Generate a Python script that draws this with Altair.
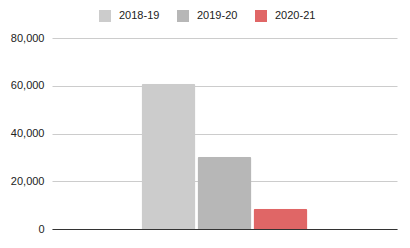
import altair as alt
import pandas as pd

seasons = ["2018-19", "2019-20", "2020-21"]
values = [60800, 30300, 8500]
colors = ["#cccccc", "#b7b7b7", "#e06666"]

df = pd.DataFrame({"season": seasons, "value": values, "group": ["all"] * 3})

chart = alt.Chart(df).mark_bar(
    cornerRadiusTopLeft=2, cornerRadiusTopRight=2
).encode(
    x=alt.X("group:N", title=None,
            scale=alt.Scale(paddingInner=0, paddingOuter=0.527),
            axis=alt.Axis(labels=False, ticks=False, domain=True,
                          domainColor="#333333", domainWidth=1, grid=False)),
    xOffset=alt.XOffset("season:N", sort=seasons,
                        scale=alt.Scale(paddingInner=0.036, paddingOuter=0.018)),
    y=alt.Y("value:Q", title=None,
            scale=alt.Scale(domain=[0, 80000], nice=False),
            axis=alt.Axis(values=[0, 20000, 40000, 60000, 80000], format=",.0f",
                          domain=False, ticks=False, labelPadding=8,
                          gridColor="#cccccc", labelColor="#222222",
                          labelFontSize=11, labelFont="Liberation Sans")),
    color=alt.Color("season:N", sort=seasons,
                    scale=alt.Scale(domain=seasons, range=colors),
                    legend=alt.Legend(title=None, orient="none", direction="horizontal",
                                      legendX=47, legendY=-28,
                                      symbolType="square", symbolSize=144,
                                      symbolStrokeWidth=0, labelOffset=8,
                                      columnPadding=17, labelFontSize=11,
                                      labelFont="Liberation Sans", labelColor="#222222")),
).properties(
    width=345, height=191,
    padding={"left": 52, "top": 38, "right": 13, "bottom": 19},
    autosize=alt.AutoSizeParams(type="none"),
).configure_view(stroke=None)

chart.save("out.html", embed_options={"renderer": "svg", "actions": False})
